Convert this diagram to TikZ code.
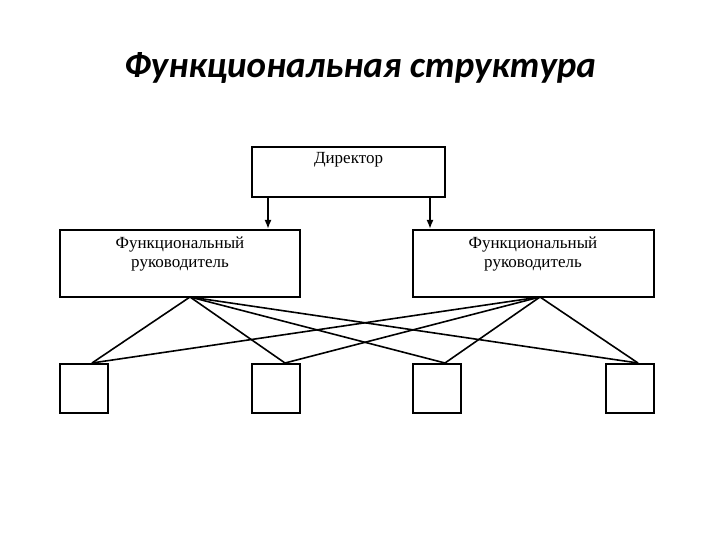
\documentclass[tikz,border=0pt]{standalone}
\usepackage{fontspec}
\usetikzlibrary{arrows.meta}
\setmainfont{Liberation Serif}
\newfontfamily\titlefont{Carlito}
\begin{document}
\begin{tikzpicture}[x=1pt,y=-1pt,
  box/.style={draw,line width=2pt,inner sep=0pt},
  lbl/.style={font=\fontsize{17}{19}\selectfont,align=center},
  ln/.style={line width=1.6pt},
  arr/.style={line width=1.8pt,-{Latex[length=9pt,width=7pt]}}]
\useasboundingbox (0,0) rectangle (720,540);
\node[font=\titlefont\bfseries\itshape\fontsize{37}{40}\selectfont] (t) at (360,68) {Функциональная структура};
\draw[box] (252,147) rectangle (445,197);
\node[lbl] (d) at (348.5,160) {Директор};
\draw[box] (60,230) rectangle (300,297);
\node[lbl] (f1) at (180,254) {Функциональный\\руководитель};
\draw[box] (413,230) rectangle (654,297);
\node[lbl] (f2) at (533,254) {Функциональный\\руководитель};
\coordinate (d1) at (268,197); \coordinate (d1e) at (268,229);
\coordinate (d2) at (430,197); \coordinate (d2e) at (430,229);
\draw[arr] (d1) -- (d1e);
\draw[arr] (d2) -- (d2e);
\coordinate (s1) at (190,297);
\coordinate (s2) at (540,297);
\foreach \i/\x/\tx in {1/60/92,2/252/285,3/413/445,4/606/638}{
  \draw[box] (\x,364) rectangle ++(48,49);
  \coordinate (b\i) at (\tx,363);
  \draw[ln] (s1) -- (b\i);
  \draw[ln] (s2) -- (b\i);
}
\end{tikzpicture}
\end{document}
